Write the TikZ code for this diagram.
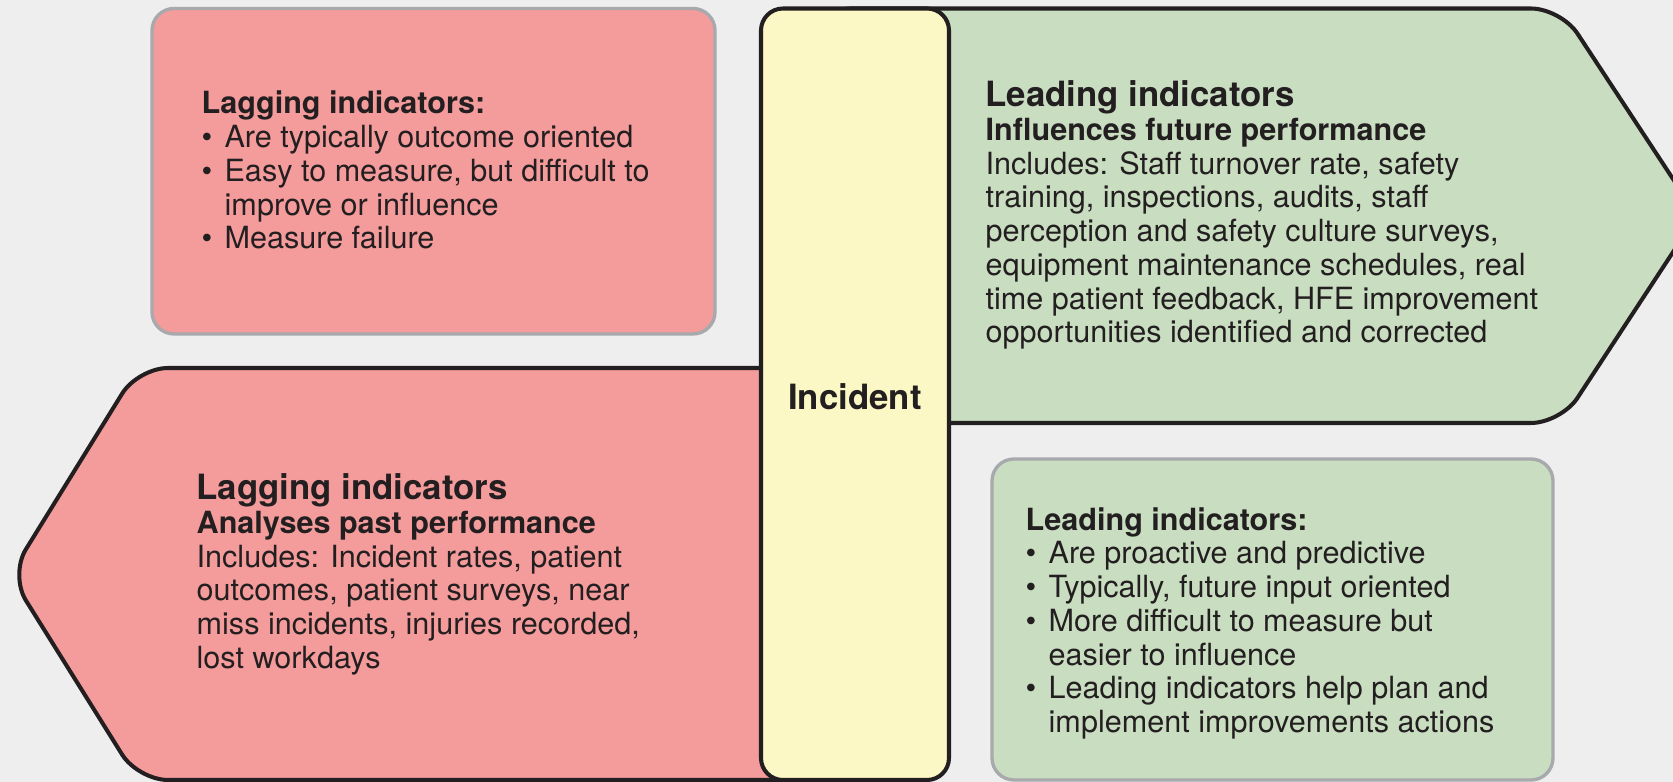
\documentclass[tikz,border=0pt]{standalone}
\usepackage{fontspec}
\setmainfont{TeX Gyre Heros}
\usepackage{tikz}

\definecolor{lagred}{HTML}{F49B9B}
\definecolor{leadgreen}{HTML}{C9DDC1}
\definecolor{incyellow}{HTML}{FBF8C5}
\definecolor{inkdark}{HTML}{231F20}
\definecolor{edgegrey}{HTML}{A7A9AC}
\definecolor{canvasgrey}{HTML}{EEEEEE}

\tikzstyle{Band} = [
draw=inkdark,
line width=1.15pt,
rounded corners=0.3cm,
line join=round
]
\tikzstyle{Card} = [
draw=edgegrey,
line width=0.95pt,
rounded corners=0.22cm
]
\tikzstyle{Body} = [
inner sep=0,
anchor=north west,
align=left,
text=inkdark,
font=\fontsize{8.7}{9.6}\selectfont
]
\newcommand{\Head}[1]{{\fontsize{9.9}{9.6}\selectfont\bfseries #1}}
\newcommand{\bulitem}{\textbullet\hspace{0.4em}}
\newcommand{\bulgap}{\hphantom{\textbullet\hspace{0.4em}}}

\begin{document}
\begin{tikzpicture}
   \fill[canvasgrey] (0,0) rectangle (16.73,7.82);
   \useasboundingbox (0,0) rectangle (16.73,7.82);
   \clip (0,0) rectangle (16.73,7.82);

   % arrow bands, tucked under the incident bar
   \draw[Band, fill=leadgreen] (8.2,7.735) -- (15.61,7.735) -- (16.97,5.665)
        -- (15.61,3.59) -- (8.2,3.59) -- cycle;
   \draw[Band, fill=lagred] (8.2,4.14) -- (1.38,4.14) -- (0.10,2.07)
        -- (1.38,0.02) -- (8.2,0.02) -- cycle;

   % side cards
   \draw[Card, fill=lagred] (1.52,7.735) rectangle (7.15,4.48);
   \draw[Card, fill=leadgreen] (9.92,3.23) rectangle (15.53,0.02);

   % incident bar
   \draw[Band, rounded corners=0.22cm, fill=incyellow] (7.61,7.735) rectangle (9.49,0.02);
   \node[text=inkdark, font=\fontsize{9.9}{12}\selectfont\bfseries] (inc) at (8.55,3.85) {Incident};

   \node[Body] (lagcard) at (2.01,6.915) {%
      \textbf{Lagging indicators:}\\
      \bulitem Are typically outcome oriented\\
      \bulitem Easy to measure, but difficult to\\
      \bulgap improve or influence\\
      \bulitem Measure failure};

   \node[Body] (lagband) at (1.96,3.09) {%
      \Head{Lagging indicators}\\
      \textbf{Analyses past performance}\\
      Includes: Incident rates, patient\\
      outcomes, patient surveys, near\\
      miss incidents, injuries recorded,\\
      lost workdays};

   \node[Body] (leadband) at (9.85,7.02) {%
      \Head{Leading indicators}\\
      \textbf{Influences future performance}\\
      Includes: Staff turnover rate, safety\\
      training, inspections, audits, staff\\
      perception and safety culture surveys,\\
      equipment maintenance schedules, real\\
      time patient feedback, HFE improvement\\
      opportunities identified and corrected};

   \node[Body] (leadcard) at (10.25,2.754) {%
      \textbf{Leading indicators:}\\
      \bulitem Are proactive and predictive\\
      \bulitem Typically, future input oriented\\
      \bulitem More difficult to measure but\\
      \bulgap easier to influence\\
      \bulitem Leading indicators help plan and\\
      \bulgap implement improvements actions};
\end{tikzpicture}
\end{document}
